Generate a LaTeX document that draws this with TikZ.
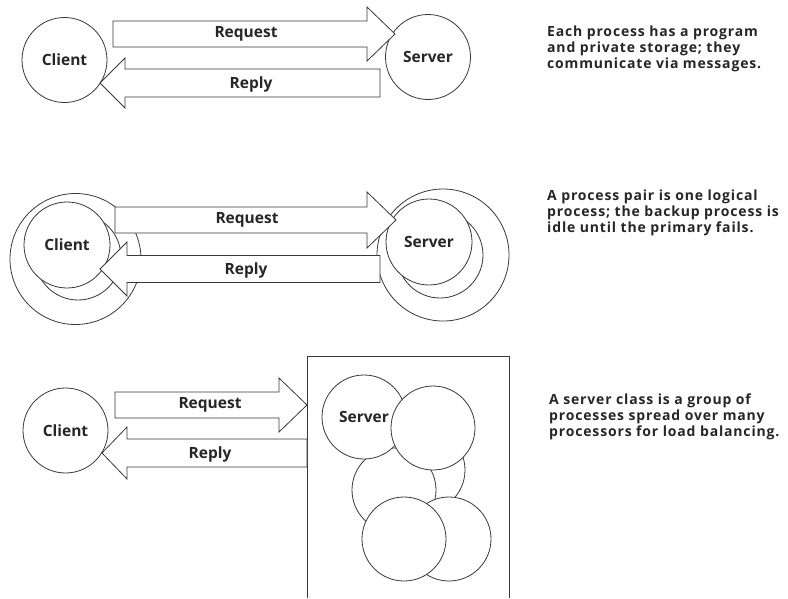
\documentclass[tikz,border=0pt]{standalone}
\usepackage{fontspec}
\setmainfont{Open Sans}
\begin{document}
\begin{tikzpicture}[x=1pt,y=-1pt,
  ink/.style={draw=black!78, line width=0.8pt},
  proc/.style={ink, circle, fill=white, inner sep=0pt, minimum size=#1,
    font=\fontsize{15.5}{18}\selectfont\bfseries, text=black!85},
  proc/.default=85pt,
  blank/.style={ink, circle, fill=white, inner sep=0pt, minimum size=#1},
  blank/.default=84pt,
  barrow/.style={ink, fill=white, line join=miter},
  lab/.style={font=\fontsize{15.5}{18}\selectfont\bfseries, text=black!85, inner sep=0pt},
  note/.style={anchor=north west, align=left, inner sep=0pt, text=black!85,
    font=\fontsize{14}{16}\selectfont\bfseries\addfontfeature{LetterSpace=6}}
]
\useasboundingbox (0,0) rectangle (788,598);

% block arrow: tail x, head base x, tip x, centre y, shaft half height, head half height
\newcommand\blockarrow[6]{%
  \draw[barrow] (#1,{#4-#5}) -- (#2,{#4-#5}) -- (#2,{#4-#6}) -- (#3,#4)
    -- (#2,{#4+#6}) -- (#2,{#4+#5}) -- (#1,{#4+#5}) -- cycle;}

% ---------- single processes ----------
\node[proc] (c1) at (64.5,60) {Client};
\node[proc] (s1) at (428,57) {Server};
\blockarrow{113}{367}{395}{34}{13}{27}
\blockarrow{380}{125}{100}{83}{14}{25}
\node[lab] (rq1) at (246,34) {Request};
\node[lab] (rp1) at (251,84) {Reply};
\node[note] (n1) at (547,25.5) {Each process has a program\\and private storage; they\\communicate via messages.};

% ---------- process pairs ----------
\node[blank=131pt] (c2o) at (75.5,259) {};
\node[blank=86pt] (c2b) at (78,257) {};
\node[proc=86pt] (c2) at (67,245) {Client};
\node[blank=132pt] (s2o) at (443,255) {};
\node[blank=86pt] (s2b) at (440,255) {};
\node[proc=86pt] (s2) at (429,242) {Server};
\blockarrow{115}{367}{396}{220}{13}{28}
\blockarrow{380}{127}{100}{269}{13.5}{27}
\node[lab] (rq2) at (247,220) {Request};
\node[lab] (rp2) at (246,270) {Reply};
\node[note] (n2) at (547,189.5) {A process pair is one logical\\process; the backup process is\\idle until the primary fails.};

% ---------- server class ----------
\node[proc] (c3) at (65.5,430.5) {Client};
\draw[ink] (307,598) -- (307,356) -- (509,356) -- (509,598);
\node[blank] (k3) at (423,470) {};
\node[blank] (k4) at (394,490) {};
\node[proc=84pt] (s3) at (364,417) {Server};
\node[blank] (k2) at (433,428) {};
\node[blank] (k6) at (449,539) {};
\node[blank] (k5) at (404,539) {};
\blockarrow{115}{279}{307}{405}{13}{27}
\blockarrow{307}{127}{102}{453}{14}{26}
\node[lab] (rq3) at (210,405) {Request};
\node[lab] (rp3) at (210,454) {Reply};
\node[note] (n3) at (549,393.5) {A server class is a group of\\processes spread over many\\processors for load balancing.};
\end{tikzpicture}
\end{document}
